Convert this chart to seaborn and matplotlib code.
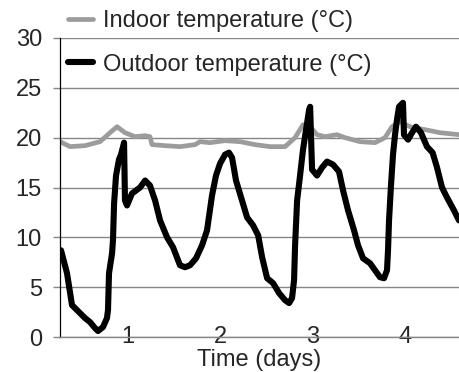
import numpy as np
import pandas as pd
import matplotlib
matplotlib.use("Agg")
import matplotlib.pyplot as plt
import seaborn as sns

# ---- data ----
outdoor_days = [0.274, 0.339, 0.393, 0.447, 0.534, 0.588, 0.642, 0.675, 0.729, 0.772,
                0.783, 0.794, 0.827, 0.837, 0.849, 0.870, 0.902, 0.924, 0.957, 0.967,
                0.989, 1.043, 1.130, 1.185, 1.238, 1.293, 1.347, 1.423, 1.488, 1.563,
                1.618, 1.672, 1.737, 1.802, 1.856, 1.910, 1.953, 1.997, 2.051, 2.094,
                2.127, 2.170, 2.235, 2.290, 2.355, 2.410, 2.453, 2.507, 2.572, 2.637,
                2.701, 2.745, 2.777, 2.799, 2.810, 2.832, 2.864, 2.896, 2.929, 2.962,
                2.973, 2.994, 3.048, 3.102, 3.156, 3.221, 3.286, 3.330, 3.384, 3.449,
                3.492, 3.546, 3.622, 3.676, 3.730, 3.774, 3.806, 3.817, 3.828, 3.849,
                3.871, 3.893, 3.914, 3.936, 3.979, 3.990, 4.034, 4.077, 4.120, 4.174,
                4.239, 4.300, 4.348, 4.402, 4.456, 4.532, 4.586]
outdoor_temp = [8.7, 6.4, 3.2, 2.7, 1.9, 1.5, 0.9, 0.6, 1.0, 1.9,
                2.7, 6.4, 8.4, 9.7, 13.4, 16.2, 17.8, 18.3, 19.5, 13.7,
                13.2, 14.4, 15.0, 15.7, 15.2, 13.7, 11.7, 10.0, 9.0, 7.2,
                7.0, 7.2, 7.9, 9.2, 10.7, 14.2, 16.2, 17.4, 18.3, 18.5,
                18.0, 15.7, 13.7, 12.0, 11.2, 10.2, 8.0, 5.9, 5.4, 4.4,
                3.7, 3.4, 3.9, 5.7, 9.2, 13.7, 16.2, 18.8, 20.8, 22.8,
                23.1, 16.8, 16.2, 17.0, 17.6, 17.3, 16.6, 14.7, 12.7, 10.7,
                9.2, 7.9, 7.4, 6.7, 6.0, 5.9, 6.7, 8.7, 11.7, 15.2,
                18.3, 20.3, 21.8, 23.1, 23.5, 20.3, 19.8, 20.5, 21.1, 20.5,
                19.1, 18.5, 17.0, 15.0, 14.0, 12.7, 11.7]

indoor_days = [0.264, 0.372, 0.534, 0.697, 0.805, 0.881, 0.967, 1.076, 1.184, 1.238,
               1.260, 1.401, 1.563, 1.726, 1.780, 1.888, 2.051, 2.214, 2.376, 2.539,
               2.701, 2.810, 2.896, 2.973, 3.048, 3.134, 3.264, 3.351, 3.514, 3.676,
               3.784, 3.860, 3.947, 4.055, 4.218, 4.380, 4.586]
indoor_temp = [19.6, 19.1, 19.2, 19.6, 20.5, 21.1, 20.5, 20.1, 20.2, 20.1,
               19.3, 19.2, 19.1, 19.3, 19.6, 19.5, 19.7, 19.6, 19.3, 19.1,
               19.1, 20.0, 21.3, 21.1, 20.3, 20.1, 20.3, 20.0, 19.6, 19.5,
               20.0, 21.1, 21.6, 21.1, 20.8, 20.5, 20.3]

series_labels = ["Indoor temperature (\u00b0C)", "Outdoor temperature (\u00b0C)"]
x_ticks = [1, 2, 3, 4]
y_ticks = [0, 5, 10, 15, 20, 25, 30]
x_label = "Time (days)"

# ---- styling ----
sns.set_style("white")
plt.rcParams["font.family"] = ["Liberation Sans", "DejaVu Sans"]
FS = 17
GRID = "#868686"

fig = plt.figure(figsize=(4.59, 3.72), dpi=100)
ax = fig.add_axes([60 / 459, 35 / 372, 399 / 459, 299 / 372])

indoor_df = pd.DataFrame({"day": indoor_days, "temp": indoor_temp})
outdoor_df = pd.DataFrame({"day": outdoor_days, "temp": outdoor_temp})

sns.lineplot(data=indoor_df, x="day", y="temp", ax=ax, color="#9c9c9c",
             linewidth=3.4, label=series_labels[0], sort=False, zorder=2,
             solid_joinstyle="round", solid_capstyle="round")
sns.lineplot(data=outdoor_df, x="day", y="temp", ax=ax, color="black",
             linewidth=4.4, label=series_labels[1], sort=False, zorder=2.1,
             solid_joinstyle="round", solid_capstyle="round")

ax.set_xlim(0.263, 4.586)
ax.set_ylim(0, 30)
ax.set_yticks(y_ticks)
ax.set_yticklabels([str(v) for v in y_ticks], fontsize=FS)
ax.set_xticks(x_ticks)
ax.set_xticklabels([str(v) for v in x_ticks], fontsize=FS)

ax.yaxis.grid(True, color=GRID, linewidth=1.0)
ax.xaxis.grid(False)
ax.set_axisbelow(True)

for s in ["top", "right"]:
    ax.spines[s].set_visible(False)
ax.spines["left"].set_color("black")
ax.spines["left"].set_linewidth(0.9)
ax.spines["bottom"].set_color(GRID)
ax.spines["bottom"].set_linewidth(1.0)

ax.tick_params(axis="y", length=5, width=1.0, color=GRID, pad=8, left=True)
ax.tick_params(axis="x", length=0, pad=0, bottom=True)
for lab in ax.get_xticklabels():
    lab.set_va("center")
    lab.set_bbox(dict(boxstyle="square,pad=0.36", facecolor="white", edgecolor="none"))

ax.set_xlabel(x_label, fontsize=FS, labelpad=0.5)
ax.set_ylabel("")

ax.get_legend().remove()
handles, labels = ax.get_legend_handles_labels()
fig.legend(handles, labels, loc="upper left", bbox_to_anchor=(68 / 459, 1 - 10 / 372),
           frameon=False, fontsize=FS, handlelength=1.06, handletextpad=0.42,
           labelspacing=0.92, borderpad=0, borderaxespad=0)

fig.savefig("out.png", dpi=100)
